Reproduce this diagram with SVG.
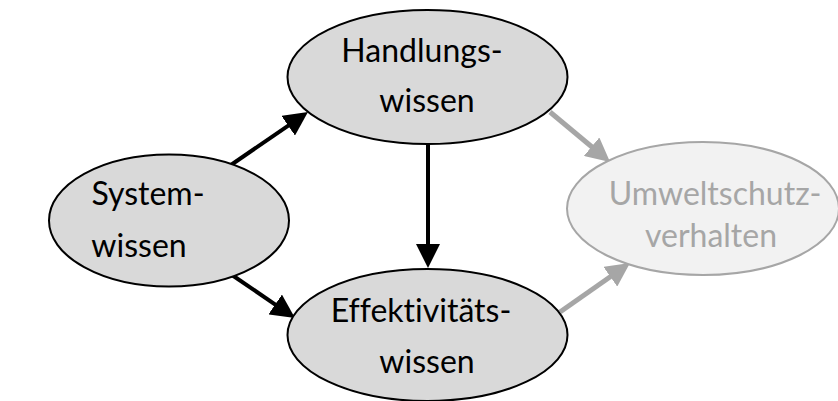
<svg xmlns="http://www.w3.org/2000/svg" width="838" height="401" viewBox="0 0 838 401">
<style>
.n{fill:#d9d9d9;stroke:#000;stroke-width:2}
.g{fill:#f2f2f2;stroke:#a6a6a6;stroke-width:2}
.t,.tg{font-family:Lato,"Open Sans",sans-serif;font-size:32px;text-anchor:middle;font-variant-ligatures:none;font-feature-settings:"liga" 0,"clig" 0}
.t{fill:#000}
.tg{fill:#a6a6a6}
.cb{stroke:#000;stroke-width:4;fill:none;marker-end:url(#ab)}
.cg{stroke:#a6a6a6;stroke-width:5;fill:none;marker-end:url(#ag)}
</style>
<defs>
<marker id="ab" markerUnits="userSpaceOnUse" markerWidth="24" markerHeight="24" refX="13" refY="12" orient="auto"><path d="M0,0 L24,12 L0,24 z" fill="#000"/></marker>
<marker id="ag" markerUnits="userSpaceOnUse" markerWidth="24" markerHeight="24" refX="13" refY="12" orient="auto"><path d="M0,0 L24,12 L0,24 z" fill="#a6a6a6"/></marker>
</defs>
<rect width="838" height="401" fill="#fff"/>
<g id="connectors">
<line class="cb" x1="228" y1="167" x2="298.9" y2="118.3"/>
<line class="cb" x1="232" y1="275" x2="285.9" y2="311.8"/>
<line class="cb" x1="428" y1="142" x2="428" y2="257"/>
<line class="cg" x1="550" y1="112" x2="601.6" y2="155"/>
<line class="cg" x1="560" y1="312" x2="621" y2="269.3"/>
</g>
<g id="system">
<ellipse class="n" cx="169" cy="220.5" rx="120" ry="66"/>
<text class="t" x="148" y="205">System-</text>
<text class="t" x="139" y="257">wissen</text>
</g>
<g id="handlungs">
<ellipse class="n" cx="427.5" cy="77" rx="140" ry="67"/>
<text class="t" x="422" y="62">Handlungs-</text>
<text class="t" x="427" y="112">wissen</text>
</g>
<g id="effekt">
<ellipse class="n" cx="427.5" cy="335" rx="140" ry="66"/>
<text class="t" x="421" y="322">Effektivitäts-</text>
<text class="t" x="427" y="373">wissen</text>
</g>
<g id="umwelt">
<ellipse class="g" cx="703" cy="208.5" rx="136" ry="66.5"/>
<text class="tg" x="715" y="205">Umweltschutz-</text>
<text class="tg" x="711" y="247">verhalten</text>
</g>
</svg>
